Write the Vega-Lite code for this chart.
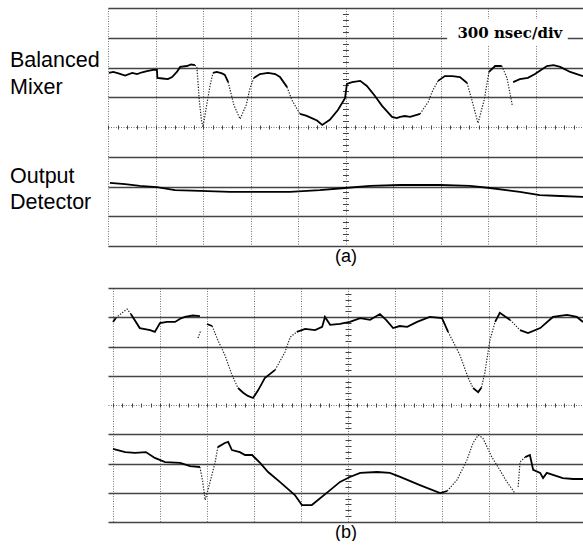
{
  "$schema": "https://vega.github.io/schema/vega-lite/v6.json",
  "padding": {"left": 10, "top": 7, "right": 0, "bottom": 0},
  "background": "white",
  "bounds": "flush",
  "spacing": 42,
  "config": {"view": {"stroke": null}, "font": "Liberation Sans"},
  "datasets": {
    "a": [
      {"g":"m1","s":"solid","x":0.02,"y":1.82},{"g":"m1","s":"solid","x":0.11,"y":1.85},{"g":"m1","s":"solid","x":0.22,"y":1.8},{"g":"m1","s":"solid","x":0.36,"y":1.73},{"g":"m1","s":"solid","x":0.51,"y":1.82},{"g":"m1","s":"solid","x":0.61,"y":1.78},{"g":"m1","s":"solid","x":0.72,"y":1.84},{"g":"m1","s":"solid","x":0.82,"y":1.88},{"g":"m1","s":"solid","x":0.95,"y":1.92},{"g":"m1","s":"solid","x":1.03,"y":1.92},{"g":"m1","s":"solid","x":1.04,"y":1.65},{"g":"m1","s":"solid","x":1.15,"y":1.63},{"g":"m1","s":"solid","x":1.26,"y":1.61},{"g":"m1","s":"solid","x":1.35,"y":1.68},{"g":"m1","s":"solid","x":1.45,"y":1.85},{"g":"m1","s":"solid","x":1.52,"y":2.02},{"g":"m1","s":"solid","x":1.66,"y":2.05},{"g":"m1","s":"solid","x":1.75,"y":2.1},{"g":"m1","s":"solid","x":1.83,"y":2.08},
      {"g":"m2","s":"dot","x":1.83,"y":2.08},{"g":"m2","s":"dot","x":1.87,"y":2.02},{"g":"m2","s":"dot","x":1.9,"y":1.4},{"g":"m2","s":"dot","x":1.92,"y":0.91},{"g":"m2","s":"dot","x":1.97,"y":0.2},{"g":"m2","s":"dot","x":2.0,"y":0.0},{"g":"m2","s":"dot","x":2.06,"y":0.57},{"g":"m2","s":"dot","x":2.15,"y":1.41},{"g":"m2","s":"dot","x":2.21,"y":1.82},
      {"g":"m3","s":"solid","x":2.21,"y":1.82},{"g":"m3","s":"solid","x":2.29,"y":1.85},{"g":"m3","s":"solid","x":2.4,"y":1.8},{"g":"m3","s":"solid","x":2.46,"y":1.75},{"g":"m3","s":"solid","x":2.53,"y":1.51},
      {"g":"m4","s":"dot","x":2.53,"y":1.51},{"g":"m4","s":"dot","x":2.65,"y":0.74},{"g":"m4","s":"dot","x":2.78,"y":0.27},{"g":"m4","s":"dot","x":2.91,"y":0.74},{"g":"m4","s":"dot","x":2.99,"y":1.31},{"g":"m4","s":"dot","x":3.07,"y":1.65},
      {"g":"m5","s":"solid","x":3.07,"y":1.65},{"g":"m5","s":"solid","x":3.2,"y":1.78},{"g":"m5","s":"solid","x":3.37,"y":1.82},{"g":"m5","s":"solid","x":3.52,"y":1.78},{"g":"m5","s":"solid","x":3.62,"y":1.68},{"g":"m5","s":"solid","x":3.77,"y":1.34},
      {"g":"m6","s":"dot","x":3.77,"y":1.34},{"g":"m6","s":"dot","x":3.87,"y":0.91},{"g":"m6","s":"dot","x":4.04,"y":0.44},
      {"g":"m7","s":"solid","x":4.04,"y":0.44},{"g":"m7","s":"solid","x":4.17,"y":0.38},{"g":"m7","s":"solid","x":4.29,"y":0.3},{"g":"m7","s":"solid","x":4.4,"y":0.22},{"g":"m7","s":"solid","x":4.51,"y":0.07},{"g":"m7","s":"solid","x":4.67,"y":0.24},{"g":"m7","s":"solid","x":4.84,"y":0.57},{"g":"m7","s":"solid","x":4.99,"y":0.97},{"g":"m7","s":"solid","x":5.03,"y":1.45},{"g":"m7","s":"solid","x":5.14,"y":1.51},{"g":"m7","s":"solid","x":5.31,"y":1.55},{"g":"m7","s":"solid","x":5.45,"y":1.38},{"g":"m7","s":"solid","x":5.62,"y":1.04},{"g":"m7","s":"solid","x":5.77,"y":0.71},{"g":"m7","s":"solid","x":5.98,"y":0.34},{"g":"m7","s":"solid","x":6.08,"y":0.3},{"g":"m7","s":"solid","x":6.15,"y":0.34},{"g":"m7","s":"solid","x":6.25,"y":0.37},{"g":"m7","s":"solid","x":6.36,"y":0.34},{"g":"m7","s":"solid","x":6.57,"y":0.44},
      {"g":"m8","s":"dot","x":6.57,"y":0.44},{"g":"m8","s":"dot","x":6.74,"y":0.84},{"g":"m8","s":"dot","x":6.84,"y":1.24},{"g":"m8","s":"dot","x":6.95,"y":1.55},
      {"g":"m9","s":"solid","x":6.95,"y":1.55},{"g":"m9","s":"solid","x":7.09,"y":1.71},{"g":"m9","s":"solid","x":7.25,"y":1.71},{"g":"m9","s":"solid","x":7.41,"y":1.68},{"g":"m9","s":"solid","x":7.56,"y":1.48},
      {"g":"m10","s":"dot","x":7.56,"y":1.48},{"g":"m10","s":"dot","x":7.66,"y":0.91},{"g":"m10","s":"dot","x":7.79,"y":0.13},{"g":"m10","s":"dot","x":7.92,"y":0.91},{"g":"m10","s":"dot","x":8.02,"y":1.85},
      {"g":"m11","s":"solid","x":8.02,"y":1.85},{"g":"m11","s":"solid","x":8.15,"y":2.05},{"g":"m11","s":"solid","x":8.29,"y":2.05},
      {"g":"m12","s":"dot","x":8.29,"y":2.05},{"g":"m12","s":"dot","x":8.4,"y":1.65},{"g":"m12","s":"dot","x":8.51,"y":0.74},
      {"g":"m13","s":"solid","x":8.53,"y":1.51},{"g":"m13","s":"solid","x":8.67,"y":1.61},{"g":"m13","s":"solid","x":8.84,"y":1.65},{"g":"m13","s":"solid","x":8.99,"y":1.78},{"g":"m13","s":"solid","x":9.1,"y":1.9},{"g":"m13","s":"solid","x":9.24,"y":2.05},{"g":"m13","s":"solid","x":9.38,"y":2.08},{"g":"m13","s":"solid","x":9.52,"y":2.02},{"g":"m13","s":"solid","x":9.73,"y":1.85},{"g":"m13","s":"solid","x":9.87,"y":1.78},{"g":"m13","s":"solid","x":10.0,"y":1.71},
      {"g":"d1","s":"solid","x":0.04,"y":-1.88},{"g":"d1","s":"solid","x":0.36,"y":-1.92},{"g":"d1","s":"solid","x":0.67,"y":-1.98},{"g":"d1","s":"solid","x":1.03,"y":-2.02},{"g":"d1","s":"solid","x":1.41,"y":-2.12},{"g":"d1","s":"solid","x":1.94,"y":-2.15},{"g":"d1","s":"solid","x":2.57,"y":-2.18},{"g":"d1","s":"solid","x":3.2,"y":-2.18},{"g":"d1","s":"solid","x":3.83,"y":-2.18},{"g":"d1","s":"solid","x":4.46,"y":-2.12},{"g":"d1","s":"solid","x":4.99,"y":-2.05},{"g":"d1","s":"solid","x":5.52,"y":-1.98},{"g":"d1","s":"solid","x":6.15,"y":-1.95},{"g":"d1","s":"solid","x":6.99,"y":-1.95},{"g":"d1","s":"solid","x":7.62,"y":-1.98},{"g":"d1","s":"solid","x":8.04,"y":-2.05},{"g":"d1","s":"solid","x":8.67,"y":-2.18},{"g":"d1","s":"solid","x":9.09,"y":-2.29},{"g":"d1","s":"solid","x":9.52,"y":-2.32},{"g":"d1","s":"solid","x":10.0,"y":-2.35}
    ],
    "b": [
      {"g":"n1","s":"solid","x":0.0,"y":2.84},{"g":"n1","s":"solid","x":0.06,"y":2.97},
      {"g":"n2","s":"dot","x":0.06,"y":2.97},{"g":"n2","s":"dot","x":0.19,"y":3.15},{"g":"n2","s":"dot","x":0.3,"y":3.28},{"g":"n2","s":"dot","x":0.38,"y":3.11},
      {"g":"n3","s":"solid","x":0.38,"y":3.11},{"g":"n3","s":"solid","x":0.57,"y":2.63},{"g":"n3","s":"solid","x":0.79,"y":2.56},{"g":"n3","s":"solid","x":0.89,"y":2.5},{"g":"n3","s":"solid","x":1.0,"y":2.8},{"g":"n3","s":"solid","x":1.15,"y":2.84},{"g":"n3","s":"solid","x":1.32,"y":2.84},{"g":"n3","s":"solid","x":1.43,"y":2.95},{"g":"n3","s":"solid","x":1.53,"y":3.01},{"g":"n3","s":"solid","x":1.7,"y":3.06},{"g":"n3","s":"solid","x":1.85,"y":3.04},
      {"g":"n4","s":"dot","x":1.81,"y":2.29},{"g":"n4","s":"dot","x":1.87,"y":2.56},
      {"g":"n5","s":"solid","x":2.0,"y":2.77},{"g":"n5","s":"solid","x":2.11,"y":2.7},
      {"g":"n6","s":"dot","x":2.11,"y":2.7},{"g":"n6","s":"dot","x":2.23,"y":2.22},{"g":"n6","s":"dot","x":2.38,"y":1.71},{"g":"n6","s":"dot","x":2.53,"y":1.03},{"g":"n6","s":"dot","x":2.66,"y":0.58},
      {"g":"n7","s":"solid","x":2.66,"y":0.58},{"g":"n7","s":"solid","x":2.77,"y":0.42},{"g":"n7","s":"solid","x":2.87,"y":0.31},{"g":"n7","s":"solid","x":2.98,"y":0.24},{"g":"n7","s":"solid","x":3.09,"y":0.51},{"g":"n7","s":"solid","x":3.23,"y":0.92},{"g":"n7","s":"solid","x":3.45,"y":1.2},
      {"g":"n8","s":"dot","x":3.45,"y":1.2},{"g":"n8","s":"dot","x":3.66,"y":1.81},{"g":"n8","s":"dot","x":3.77,"y":2.32},{"g":"n8","s":"dot","x":3.91,"y":2.5},
      {"g":"n9","s":"solid","x":3.91,"y":2.5},{"g":"n9","s":"solid","x":4.09,"y":2.6},{"g":"n9","s":"solid","x":4.3,"y":2.56},{"g":"n9","s":"solid","x":4.45,"y":2.67},{"g":"n9","s":"solid","x":4.51,"y":3.01},{"g":"n9","s":"solid","x":4.62,"y":2.74},{"g":"n9","s":"solid","x":4.83,"y":2.77},{"g":"n9","s":"solid","x":5.04,"y":2.84},{"g":"n9","s":"solid","x":5.26,"y":2.97},{"g":"n9","s":"solid","x":5.47,"y":2.91},{"g":"n9","s":"solid","x":5.68,"y":3.11},{"g":"n9","s":"solid","x":5.81,"y":2.91},{"g":"n9","s":"solid","x":5.96,"y":2.63},{"g":"n9","s":"solid","x":6.1,"y":2.7},{"g":"n9","s":"solid","x":6.26,"y":2.67},{"g":"n9","s":"solid","x":6.47,"y":2.84},{"g":"n9","s":"solid","x":6.74,"y":3.01},{"g":"n9","s":"solid","x":7.0,"y":2.97},{"g":"n9","s":"solid","x":7.13,"y":2.5},
      {"g":"n10","s":"dot","x":7.13,"y":2.5},{"g":"n10","s":"dot","x":7.38,"y":1.71},{"g":"n10","s":"dot","x":7.55,"y":0.96},{"g":"n10","s":"dot","x":7.66,"y":0.58},
      {"g":"n11","s":"solid","x":7.66,"y":0.58},{"g":"n11","s":"solid","x":7.77,"y":0.44},{"g":"n11","s":"solid","x":7.84,"y":0.6},
      {"g":"n12","s":"dot","x":7.84,"y":0.6},{"g":"n12","s":"dot","x":7.91,"y":1.09},{"g":"n12","s":"dot","x":8.02,"y":2.22},{"g":"n12","s":"dot","x":8.13,"y":2.84},
      {"g":"n13","s":"solid","x":8.13,"y":2.84},{"g":"n13","s":"solid","x":8.23,"y":3.15},{"g":"n13","s":"solid","x":8.45,"y":2.91},
      {"g":"n14","s":"dot","x":8.45,"y":2.91},{"g":"n14","s":"dot","x":8.66,"y":2.56},
      {"g":"n15","s":"solid","x":8.66,"y":2.56},{"g":"n15","s":"solid","x":8.83,"y":2.46},{"g":"n15","s":"solid","x":9.09,"y":2.63},{"g":"n15","s":"solid","x":9.36,"y":3.01},{"g":"n15","s":"solid","x":9.66,"y":3.08},{"g":"n15","s":"solid","x":9.87,"y":3.01},{"g":"n15","s":"solid","x":10.0,"y":2.84},
      {"g":"p1","s":"solid","x":0.0,"y":-1.5},{"g":"p1","s":"solid","x":0.26,"y":-1.61},{"g":"p1","s":"solid","x":0.47,"y":-1.64},{"g":"p1","s":"solid","x":0.7,"y":-1.61},{"g":"p1","s":"solid","x":0.89,"y":-1.81},{"g":"p1","s":"solid","x":1.11,"y":-1.95},{"g":"p1","s":"solid","x":1.43,"y":-1.98},{"g":"p1","s":"solid","x":1.64,"y":-2.09},{"g":"p1","s":"solid","x":1.85,"y":-2.12},
      {"g":"p2","s":"dot","x":1.85,"y":-2.12},{"g":"p2","s":"dot","x":1.91,"y":-2.63},{"g":"p2","s":"dot","x":1.96,"y":-3.25},{"g":"p2","s":"dot","x":2.02,"y":-2.91},{"g":"p2","s":"dot","x":2.17,"y":-1.98},{"g":"p2","s":"dot","x":2.23,"y":-1.44},
      {"g":"p3","s":"solid","x":2.23,"y":-1.44},{"g":"p3","s":"solid","x":2.38,"y":-1.3},{"g":"p3","s":"solid","x":2.45,"y":-1.26},{"g":"p3","s":"solid","x":2.53,"y":-1.54},{"g":"p3","s":"solid","x":2.7,"y":-1.61},{"g":"p3","s":"solid","x":2.81,"y":-1.71},{"g":"p3","s":"solid","x":2.96,"y":-1.71},{"g":"p3","s":"solid","x":3.13,"y":-1.98},{"g":"p3","s":"solid","x":3.3,"y":-2.29},{"g":"p3","s":"solid","x":3.55,"y":-2.63},{"g":"p3","s":"solid","x":3.87,"y":-3.08},{"g":"p3","s":"solid","x":4.02,"y":-3.42},{"g":"p3","s":"solid","x":4.23,"y":-3.42},{"g":"p3","s":"solid","x":4.62,"y":-2.91},{"g":"p3","s":"solid","x":4.83,"y":-2.63},{"g":"p3","s":"solid","x":5.04,"y":-2.46},{"g":"p3","s":"solid","x":5.26,"y":-2.32},{"g":"p3","s":"solid","x":5.62,"y":-2.29},{"g":"p3","s":"solid","x":5.89,"y":-2.32},{"g":"p3","s":"solid","x":6.11,"y":-2.46},{"g":"p3","s":"solid","x":6.53,"y":-2.74},{"g":"p3","s":"solid","x":6.96,"y":-3.01},{"g":"p3","s":"solid","x":7.11,"y":-2.94},
      {"g":"p4","s":"dot","x":7.11,"y":-2.94},{"g":"p4","s":"dot","x":7.32,"y":-2.56},{"g":"p4","s":"dot","x":7.53,"y":-1.88},{"g":"p4","s":"dot","x":7.66,"y":-1.3},{"g":"p4","s":"dot","x":7.77,"y":-1.03},{"g":"p4","s":"dot","x":7.87,"y":-1.13},{"g":"p4","s":"dot","x":8.06,"y":-1.78},{"g":"p4","s":"dot","x":8.23,"y":-2.22},{"g":"p4","s":"dot","x":8.38,"y":-2.63},{"g":"p4","s":"dot","x":8.55,"y":-3.01},
      {"g":"p5","s":"dot","x":8.62,"y":-2.8},{"g":"p5","s":"dot","x":8.66,"y":-1.95},{"g":"p5","s":"dot","x":8.77,"y":-1.78},
      {"g":"p6","s":"solid","x":8.77,"y":-1.78},{"g":"p6","s":"solid","x":8.87,"y":-1.71},{"g":"p6","s":"solid","x":8.94,"y":-2.22},{"g":"p6","s":"solid","x":9.09,"y":-2.32},{"g":"p6","s":"solid","x":9.15,"y":-2.5},{"g":"p6","s":"solid","x":9.23,"y":-2.32},{"g":"p6","s":"solid","x":9.36,"y":-2.39},{"g":"p6","s":"solid","x":9.57,"y":-2.5},{"g":"p6","s":"solid","x":9.79,"y":-2.53},{"g":"p6","s":"solid","x":10.0,"y":-2.53}
    ]
  },
  "vconcat": [
    {
      "width": 475,
      "height": 238,
      "data": {"name": "a"},
      "layer": [
        {
          "transform": [{"filter": "datum.s === 'solid'"}],
          "mark": {"type": "line", "color": "black", "strokeWidth": 1.8},
          "encoding": {
            "x": {"field": "x", "type": "quantitative", "scale": {"domain": [0, 10], "nice": false, "zero": false},
              "axis": {"orient": "bottom", "values": [0,1,2,3,4,5,6,7,8,9,10], "grid": true, "gridColor": "#777", "gridDash": [1, 1.5], "gridWidth": 1, "gridOpacity": 1, "ticks": false, "labels": false, "domain": false, "title": "(a)", "titleFont": "Liberation Sans", "titleFontSize": 18, "titleFontWeight": "normal", "titleColor": "black", "titlePadding": 1}},
            "y": {"field": "y", "type": "quantitative", "scale": {"domain": [-4, 4], "nice": false, "zero": false},
              "axis": {"orient": "left", "values": [-4,-3,-2,-1,0,1,2,3,4], "grid": true, "gridOpacity": 1,
                "gridColor": {"condition": {"test": "datum.value === 0", "value": "#777"}, "value": "#444"},
                "gridDash": {"condition": {"test": "datum.value === 0", "value": [1, 1.5]}, "value": []},
                "gridWidth": {"condition": {"test": "datum.value === 0", "value": 1}, "value": 1.3},
                "ticks": false, "labels": false, "domain": false, "title": null}},
            "detail": {"field": "g"}
          }
        },
        {
          "transform": [{"filter": "datum.s === 'dot'"}],
          "mark": {"type": "line", "color": "#222", "strokeWidth": 1.2, "strokeDash": [1.3, 1.5]},
          "encoding": {
            "x": {"field": "x", "type": "quantitative", "scale": {"domain": [0, 10], "nice": false, "zero": false},
              "axis": {"orient": "top", "offset": -121, "tickCount": 50, "ticks": true, "tickSize": 4, "tickColor": "#444", "tickWidth": 1, "labels": false, "domain": false, "grid": false, "title": null}},
            "y": {"field": "y", "type": "quantitative", "scale": {"domain": [-4, 4], "nice": false, "zero": false},
              "axis": {"orient": "left", "offset": -240.5, "tickCount": 40, "ticks": true, "tickSize": 6, "tickColor": "#444", "tickWidth": 1, "labels": false, "domain": false, "grid": false, "title": null}},
            "detail": {"field": "g"}
          }
        },
        {
          "data": {"values": [{}]},
          "mark": {"type": "rect", "color": "white"},
          "encoding": {
            "x": {"datum": 7.14, "type": "quantitative", "axis": null},
            "x2": {"datum": 9.68},
            "y": {"datum": 3.63, "type": "quantitative", "axis": null},
            "y2": {"datum": 2.72}
          }
        },
        {
          "data": {"values": [{}]},
          "mark": {"type": "text", "text": "300 nsec/div", "font": "DejaVu Serif", "fontWeight": "bold", "fontSize": 15, "align": "center", "baseline": "alphabetic", "color": "black"},
          "encoding": {
            "x": {"datum": 8.46, "type": "quantitative", "axis": null},
            "y": {"datum": 2.99, "type": "quantitative", "axis": null}
          }
        },
        {
          "data": {"values": [{}]},
          "mark": {"type": "text", "text": ["Balanced", "Mixer"], "font": "Liberation Sans", "fontSize": 21.5, "lineHeight": 27, "align": "left", "baseline": "alphabetic", "color": "black"},
          "encoding": {
            "x": {"datum": -2.063, "type": "quantitative", "axis": null},
            "y": {"datum": 2.02, "type": "quantitative", "axis": null}
          }
        },
        {
          "data": {"values": [{}]},
          "mark": {"type": "text", "text": ["Output", "Detector"], "font": "Liberation Sans", "fontSize": 21.5, "lineHeight": 26, "align": "left", "baseline": "alphabetic", "color": "black"},
          "encoding": {
            "x": {"datum": -2.063, "type": "quantitative", "axis": null},
            "y": {"datum": -1.89, "type": "quantitative", "axis": null}
          }
        }
      ],
      "resolve": {"axis": {"x": "independent", "y": "independent"}}
    },
    {
      "width": 475,
      "height": 234,
      "data": {"name": "b"},
      "layer": [
        {
          "transform": [{"filter": "datum.s === 'solid'"}],
          "mark": {"type": "line", "color": "black", "strokeWidth": 1.8},
          "encoding": {
            "x": {"field": "x", "type": "quantitative", "scale": {"domain": [-0.106, 10], "nice": false, "zero": false},
              "axis": {"orient": "bottom", "values": [0,1,2,3,4,5,6,7,8,9,10], "grid": true, "gridColor": "#777", "gridDash": [1, 1.5], "gridWidth": 1, "gridOpacity": 1, "ticks": false, "labels": false, "domain": false, "title": "(b)", "titleFont": "Liberation Sans", "titleFontSize": 18, "titleFontWeight": "normal", "titleColor": "black", "titlePadding": 1}},
            "y": {"field": "y", "type": "quantitative", "scale": {"domain": [-4, 4], "nice": false, "zero": false},
              "axis": {"orient": "left", "values": [-4,-3,-2,-1,0,1,2,3,4], "grid": true, "gridOpacity": 1,
                "gridColor": {"condition": {"test": "datum.value === 0", "value": "#777"}, "value": "#444"},
                "gridDash": {"condition": {"test": "datum.value === 0", "value": [1, 1.5]}, "value": []},
                "gridWidth": {"condition": {"test": "datum.value === 0", "value": 1}, "value": 1.3},
                "ticks": false, "labels": false, "domain": false, "title": null}},
            "detail": {"field": "g"}
          }
        },
        {
          "transform": [{"filter": "datum.s === 'dot'"}],
          "mark": {"type": "line", "color": "#222", "strokeWidth": 1.2, "strokeDash": [1.3, 1.5]},
          "encoding": {
            "x": {"field": "x", "type": "quantitative", "scale": {"domain": [-0.106, 10], "nice": false, "zero": false},
              "axis": {"orient": "top", "offset": -119, "tickCount": 50, "ticks": true, "tickSize": 4, "tickColor": "#444", "tickWidth": 1, "labels": false, "domain": false, "grid": false, "title": null}},
            "y": {"field": "y", "type": "quantitative", "scale": {"domain": [-4, 4], "nice": false, "zero": false},
              "axis": {"orient": "left", "offset": -243, "tickCount": 40, "ticks": true, "tickSize": 6, "tickColor": "#444", "tickWidth": 1, "labels": false, "domain": false, "grid": false, "title": null}},
            "detail": {"field": "g"}
          }
        }
      ],
      "resolve": {"axis": {"x": "independent", "y": "independent"}}
    }
  ]
}
